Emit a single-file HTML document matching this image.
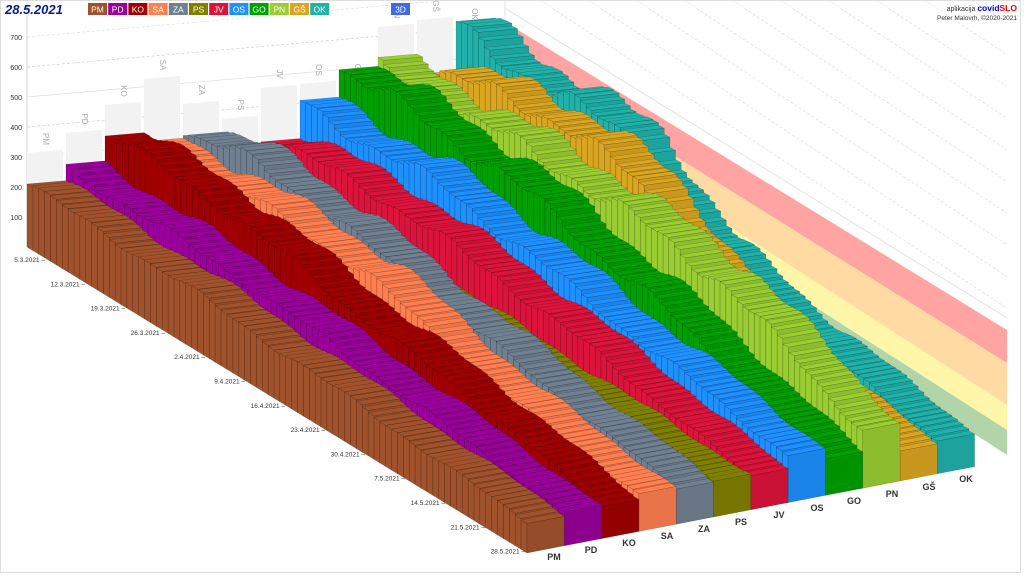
<!DOCTYPE html>
<html><head><meta charset="utf-8"><style>
html,body{margin:0;padding:0;background:#fff;}
svg{display:block;font-family:"Liberation Sans",sans-serif;}
</style></head><body>
<svg id="s" width="1024" height="576" viewBox="0 0 1024 576" xmlns="http://www.w3.org/2000/svg">
<rect x="0.5" y="0.5" width="1020" height="572" fill="#fff" stroke="#ddd"/>
<g id="bg"></g>
<g id="bars"></g>
<g id="txt"></g>
</svg>
<script>
const NS="http://www.w3.org/2000/svg";
const bg=document.getElementById('bg'),bars=document.getElementById('bars'),txt=document.getElementById('txt');
function el(p,tag,a,text){const e=document.createElementNS(NS,tag);for(const k in a)e.setAttribute(k,a[k]);if(text!==undefined)e.textContent=text;p.appendChild(e);return e;}
const S=[
["PM","#a0522d",[[0,210],[0.3,190],[0.6,150],[1,92]]],
["PD","#9a009a",[[0,255],[0.3,232],[0.6,180],[1,100]]],
["KO","#a00000",[[0,355],[0.2,345],[0.5,250],[0.8,170],[1,92]]],
["SA","#ff7f50",[[0,320],[0.3,330],[0.45,300],[0.7,180],[1,108]]],
["ZA","#708090",[[0,330],[0.15,380],[0.4,300],[0.7,200],[1,106]]],
["PS","#808000",[[0,200],[0.4,175],[0.7,140],[1,108]]],
["JV","#dc143c",[[0,300],[0.2,330],[0.5,270],[0.8,170],[1,95]]],
["OS","#1e90ff",[[0,400],[0.3,380],[0.6,270],[1,140]]],
["GO","#00a000",[[0,510],[0.3,460],[0.6,330],[1,105]]],
["PN","#9acd32",[[0,500],[0.4,480],[0.7,400],[1,170]]],
["GŠ","#daa520",[[0,500],[0.3,560],[0.45,480],[0.7,220],[1,80]]],
["OK","#20b2aa",[[0,600],[0.35,530],[0.5,320],[0.7,210],[1,100]]]
];
function P(i,t,v){const bx=27+39*i,by=247-3.4*i,fx=527+37.3*i,fy=553-7.2*i;
 const x=bx+(fx-bx)*t,y=by+(fy-by)*t,sc=0.3+0.03*t;return [x,y-v*sc];}
function pts(a){return a.map(p=>p[0].toFixed(1)+","+p[1].toFixed(1)).join(" ");}
function interp(k,t){for(let n=0;n<k.length-1;n++){if(t<=k[n+1][0]){const f=(t-k[n][0])/(k[n+1][0]-k[n][0]);return k[n][1]+(k[n+1][1]-k[n][1])*f;}}return k[k.length-1][1];}
function shade(h,f){const n=parseInt(h.slice(1),16);let r=(n>>16)&255,g=(n>>8)&255,b=n&255;r=Math.min(255,r*f)|0;g=Math.min(255,g*f)|0;b=Math.min(255,b*f)|0;return `rgb(${r},${g},${b})`;}
for(let v=100;v<=700;v+=100){const y0=247-v*0.3;
 el(bg,'line',{x1:27,y1:y0,x2:507,y2:y0-42,stroke:(v%200==100?'#ddd':'#ccc'),'stroke-width':0.7,'stroke-dasharray':(v==500)?'':'3,2'});
 el(txt,'text',{x:22,y:y0+3,'font-size':7,fill:'#333','text-anchor':'end'},String(v));}
el(bg,'line',{x1:27,y1:0,x2:27,y2:247,stroke:'#ccc','stroke-width':0.8});
el(bg,'line',{x1:505,y1:0,x2:505,y2:205,stroke:'#ddd','stroke-width':0.8});
for(let x0=540;x0<1020;x0+=48){el(bg,'line',{x1:x0,y1:0,x2:1007,y2:(1007-x0)*0.66,stroke:'#ddd','stroke-width':0.7,'stroke-dasharray':'3,2'});}
el(bg,'line',{x1:505,y1:8,x2:1007,y2:318,stroke:'#ddd','stroke-width':0.8});
const gh=[153,133,105,79,104,119,88,84,84,27,20,28];
for(let i=0;i<12;i++){const x=27+39*i,b=247-3.4*i,w=36,top=gh[i];
 el(bg,'polygon',{points:`${x},${b} ${x+w},${b-3.1} ${x+w},${top-3.1} ${x},${top}`,fill:'#f2f2f2'});
 const cx=x+w/2,cy=top-14;el(bg,'text',{x:cx,y:cy,'font-size':8,fill:'#aaa','text-anchor':'middle',transform:`rotate(90 ${cx} ${cy})`,'dominant-baseline':'middle'},S[i][0]);}
const bands=[["#ff9999",22,50,330,363],["#ffd699",50,82,363,405],["#fff5a0",82,108,405,430],["#a8d0a0",108,130,430,455]];
for(const b of bands){el(bg,'polygon',{points:`505,${b[1]} 1007,${b[3]} 1007,${b[4]} 505,${b[2]}`,fill:b[0],opacity:0.9});}
const N=85;
for(let i=11;i>=0;i--){const [nm,col,k]=S[i];const fr=shade(col,0.92);
 for(let j=0;j<N;j++){const t0=j/N,t1=(j+1)/N,tm=j/N;
  let v=interp(k,tm)*(1+0.05*Math.sin(tm*23+i*3)+0.03*Math.sin(tm*61+i*1.7));
  const st={stroke:'rgba(0,0,0,0.25)','stroke-width':0.5,'stroke-linejoin':'round'};
  el(bars,'polygon',Object.assign({points:pts([P(i,t0,0),P(i,t1,0),P(i,t1,v),P(i,t0,v)]),fill:col},st));
  el(bars,'polygon',Object.assign({points:pts([P(i,t0,v),P(i,t1,v),P(i+1,t1,v),P(i+1,t0,v)]),fill:col},st));
  el(bars,'polygon',Object.assign({points:pts([P(i,t1,0),P(i+1,t1,0),P(i+1,t1,v),P(i,t1,v)]),fill:fr},st));
 }}
const dates=["5.3.2021","12.3.2021","19.3.2021","26.3.2021","2.4.2021","9.4.2021","16.4.2021","23.4.2021","30.4.2021","7.5.2021","14.5.2021","21.5.2021","28.5.2021"];
dates.forEach((d,n)=>{const x=45+40*n,y=262+24.3*n;el(txt,'text',{x:x,y:y,'font-size':6.5,fill:'#333','text-anchor':'end'},d+" –");});
const fl=[[554,557],[591,550],[629,543],[667,536],[704,529],[741,522],[779,515],[817,508],[854,501],[892,494],[929,487],[966,479]];
fl.forEach((p,n)=>el(txt,'text',{x:p[0],y:p[1]+3,'font-size':9,'font-weight':'bold',fill:'#333','text-anchor':'middle'},S[n][0]));
el(txt,'text',{x:5,y:14,'font-size':13,'font-weight':'bold','font-style':'italic',fill:'#0a1a8a'},"28.5.2021");
S.forEach((s,n)=>{const x=88+20.2*n;el(txt,'rect',{x:x,y:3,width:19,height:12,fill:s[1]});
 el(txt,'text',{x:x+9.5,y:12.5,'font-size':8.5,fill:'#fff','text-anchor':'middle'},s[0]);});
el(txt,'rect',{x:391,y:3,width:19,height:12,fill:'#4169e1'});
el(txt,'text',{x:400.5,y:12.5,'font-size':8.5,fill:'#fff','text-anchor':'middle'},"3D");
const a=el(txt,'text',{x:1017,y:11,'font-size':7,fill:'#333','text-anchor':'end'},"aplikacija ");
el(a,'tspan',{fill:'#0000ee','font-weight':'bold','font-size':8.5},"covid");
el(a,'tspan',{fill:'#ee0000','font-weight':'bold','font-size':8.5},"SLO");
el(txt,'text',{x:1017,y:20,'font-size':6.5,fill:'#333','text-anchor':'end'},"Peter Malovrh, ©2020-2021");
</script>
</body></html>
